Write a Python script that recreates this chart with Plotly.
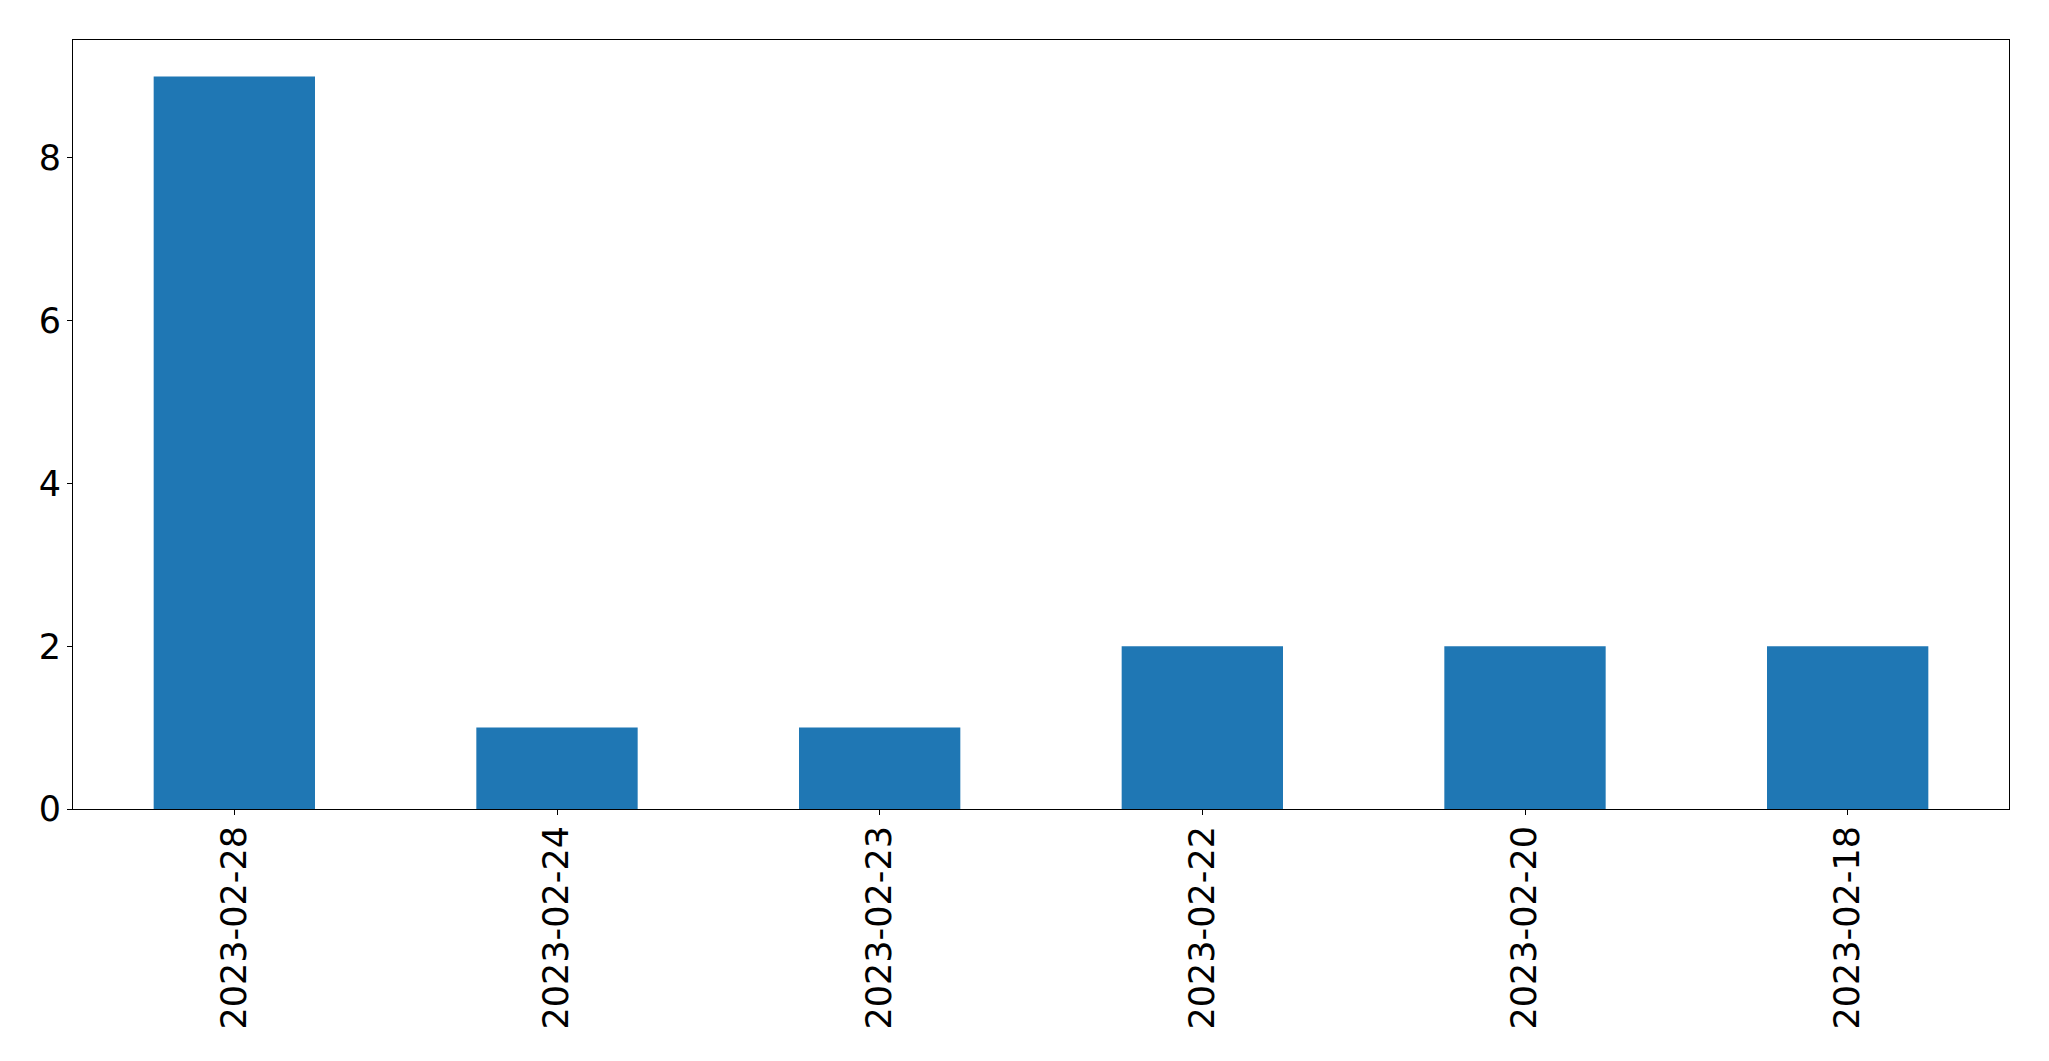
import plotly.graph_objects as go

dates = ["2023-02-28", "2023-02-24", "2023-02-23", "2023-02-22", "2023-02-20", "2023-02-18"]
counts = [9, 1, 1, 2, 2, 2]
y_ticks = [0, 2, 4, 6, 8]

fig = go.Figure(go.Bar(x=dates, y=counts, width=0.5, marker=dict(color="#1f77b4", line=dict(width=0))))

axis_common = dict(
    showline=True, linecolor="black", linewidth=1.1, mirror=True,
    ticks="outside", ticklen=5, tickwidth=1.1, tickcolor="black",
    showgrid=False, zeroline=False,
    tickfont=dict(family="DejaVu Sans", size=35, color="black"),
)

# page body has an 8px default margin; compensate so the plot lands where the reference has it
fig.update_layout(
    width=2041, height=1053,
    margin=dict(l=64.5, r=40, t=31.5, b=252, autoexpand=False),
    paper_bgcolor="white", plot_bgcolor="white",
    showlegend=False,
    xaxis=dict(type="category", range=[-0.5, 5.5], tickangle=-90, ticklabelstandoff=-3, **axis_common),
    yaxis=dict(range=[0, 9.45], tickvals=y_ticks, ticktext=[str(v) for v in y_ticks], ticklabelstandoff=-1, **axis_common),
)

fig.write_html("out.html")
